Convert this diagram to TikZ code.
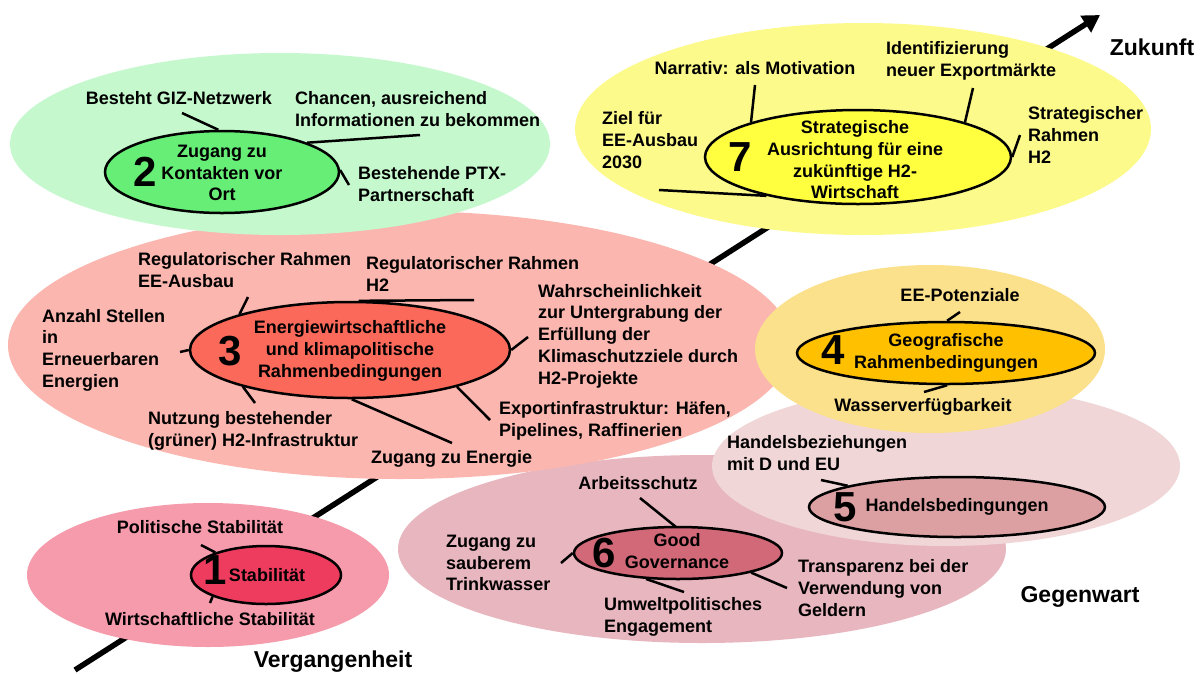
\documentclass[tikz,border=0pt]{standalone}
\usepackage{fontspec}
\setmainfont{Liberation Sans}
\usetikzlibrary{shapes.geometric,arrows.meta}
\definecolor{stabouter}{RGB}{245,155,172}
\definecolor{stabinner}{RGB}{238,60,95}
\definecolor{kontouter}{RGB}{198,248,206}
\definecolor{kontinner}{RGB}{102,238,119}
\definecolor{energouter}{RGB}{250,182,175}
\definecolor{energinner}{RGB}{250,105,90}
\definecolor{geoouter}{RGB}{252,225,140}
\definecolor{geoinner}{RGB}{255,192,0}
\definecolor{handouter}{RGB}{240,214,215}
\definecolor{handinner}{RGB}{220,160,162}
\definecolor{govouter}{RGB}{232,182,190}
\definecolor{govinner}{RGB}{210,105,120}
\definecolor{stratouter}{RGB}{253,250,140}
\definecolor{stratinner}{RGB}{255,255,64}

\begin{document}
\begin{tikzpicture}[
    x=1pt, y=-1pt,
    outer/.style={ellipse, inner sep=0pt},
    inner/.style={ellipse, draw=black, line width=2.5pt, inner sep=0pt},
    num/.style={font=\fontsize{42}{42}\selectfont\bfseries, inner sep=0pt},
    ctr/.style={font=\fontsize{18}{21.7}\selectfont\bfseries, align=center, inner sep=0pt},
    lbl/.style={font=\fontsize{18}{21.7}\selectfont\bfseries, align=left, inner sep=0pt},
    era/.style={font=\fontsize{23}{23}\selectfont\bfseries, inner sep=0pt},
    conn/.style={line width=2.5pt},
    timeline/.style={line width=5.5pt, -{Triangle[length=17pt,width=19pt]}}
]
\path[use as bounding box, fill=white] (0,0) rectangle (1202,673);

% Time axis
\coordinate (past) at (75,670);
\coordinate (future) at (1100,15);
\draw[timeline] (past) -- (future);

% 6 Good Governance
\node[outer, fill=govouter, minimum width=608, minimum height=188] (e6) at (702,549) {};
\coordinate (g6a) at (640,498);
\coordinate (g6b) at (561,563);
\coordinate (g6c) at (787,588);
\coordinate (g6d) at (684,592);
\draw[conn] (g6a) -- (676,527);
\node[inner, fill=govinner, minimum width=208, minimum height=52] (i6) at (678,553) {};
\draw[conn] (i6.180) -- (g6b);
\draw[conn] (i6.345) -- (g6c);
\draw[conn] (i6.219) -- (g6d);
\node[num] (n6) at (604,553) {6};
\node[ctr] (t6) at (677,551) {Good\\Governance};
\node[lbl] (l6a) at (638,483) {Arbeitsschutz};
\node[lbl, anchor=west] (l6b) at (446,563) {Zugang zu\\sauberem\\Trinkwasser};
\node[lbl, anchor=west] (l6c) at (798,588) {Transparenz bei der\\Verwendung von\\Geldern};
\node[lbl, anchor=west] (l6d) at (604,617) {Umweltpolitisches\\Engagement};

% 5 Handelsbedingungen
\node[outer, fill=handouter, minimum width=468, minimum height=160] (e5) at (946,466) {};
\coordinate (g5a) at (821,480);
\node[inner, fill=handinner, minimum width=296, minimum height=60] (i5) at (957,507) {};
\draw[conn] (i5.169) -- (g5a);
\node[num] (n5) at (845,507) {5};
\node[ctr] (t5) at (957,507) {Handelsbedingungen};
\node[lbl, anchor=west] (l5a) at (727,453) {Handelsbeziehungen\\mit D und EU};

% 3 Energiewirtschaftliche Rahmenbedingungen
\node[outer, fill=energouter, minimum width=784, minimum height=268] (e3) at (400,345) {};
\coordinate (g3a) at (248,297);
\coordinate (g3b) at (474,300);
\coordinate (g3c) at (528,337);
\coordinate (g3d) at (180,352);
\coordinate (g3e) at (255,403);
\coordinate (g3f) at (490,420);
\coordinate (g3g) at (452,443);
\node[inner, fill=energinner, minimum width=320, minimum height=96] (i3) at (350,350) {};
\draw[conn] (i3.162) -- (g3a);
\draw[conn] (i3.80) -- (g3b);
\draw[conn] (i3.0) -- (g3c);
\draw[conn] (i3.180) -- (g3d);
\draw[conn] (i3.199) -- (g3e);
\draw[conn] (i3.341) -- (g3f);
\draw[conn] (i3.272) -- (g3g);
\node[num] (n3) at (230,351) {3};
\node[ctr] (t3) at (350,351) {Energiewirtschaftliche\\und klimapolitische\\Rahmenbedingungen};
\node[lbl, anchor=west] (l3a) at (138,270) {Regulatorischer Rahmen\\EE-Ausbau};
\node[lbl, anchor=west] (l3b) at (366,274) {Regulatorischer Rahmen\\H2};
\node[lbl, anchor=west] (l3c) at (538,336) {Wahrscheinlichkeit\\zur Untergrabung der\\Erfüllung der\\Klimaschutzziele durch\\H2-Projekte};
\node[lbl, anchor=west] (l3d) at (42,350) {Anzahl Stellen\\in\\Erneuerbaren\\Energien};
\node[lbl, anchor=west] (l3e) at (148,431) {Nutzung bestehender\\(grüner) H2-Infrastruktur};
\node[lbl, anchor=west] (l3f) at (499,421) {Exportinfrastruktur: Häfen,\\Pipelines, Raffinerien};
\node[lbl, anchor=west] (l3g) at (371,459) {Zugang zu Energie};

% 4 Geografische Rahmenbedingungen
\node[outer, fill=geoouter, minimum width=350, minimum height=168] (e4) at (930,349) {};
\coordinate (g4a) at (960,312);
\coordinate (g4b) at (924,392);
\node[inner, fill=geoinner, minimum width=298, minimum height=62] (i4) at (946,353) {};
\draw[conn] (i4.88) -- (g4a);
\draw[conn] (i4.272) -- (g4b);
\node[num] (n4) at (833,350) {4};
\node[ctr] (t4) at (946,353) {Geografische\\Rahmenbedingungen};
\node[lbl] (l4a) at (960,295) {EE-Potenziale};
\node[lbl] (l4b) at (923,407) {Wasserverfügbarkeit};

% 2 Zugang zu Kontakten vor Ort
\node[outer, fill=kontouter, minimum width=540, minimum height=182] (e2) at (280,144) {};
\coordinate (g2a) at (182,113);
\coordinate (g2b) at (420,135);
\coordinate (g2c) at (349,185);
\node[inner, fill=kontinner, minimum width=234, minimum height=82] (i2) at (222,172) {};
\draw[conn] (i2.95) -- (g2a);
\draw[conn] (i2.19) -- (g2b);
\draw[conn] (i2.1) -- (g2c);
\node[num] (n2) at (145,172) {2};
\node[ctr] (t2) at (222,173) {Zugang zu\\Kontakten vor\\Ort};
\node[lbl] (l2a) at (179,98) {Besteht GIZ-Netzwerk};
\node[lbl, anchor=west] (l2b) at (295,109) {Chancen, ausreichend\\Informationen zu bekommen};
\node[lbl, anchor=west] (l2c) at (358,184) {Bestehende PTX-\\Partnerschaft};

% 7 Strategische Ausrichtung
\node[outer, fill=stratouter, minimum width=576, minimum height=212] (e7) at (863,129) {};
\coordinate (g7a) at (755,85);
\coordinate (g7b) at (973,88);
\coordinate (g7c) at (1020,135);
\coordinate (g7d) at (659,190);
\node[inner, fill=stratinner, minimum width=306, minimum height=94] (i7) at (858,157) {};
\draw[conn] (i7.162) -- (g7a);
\draw[conn] (i7.18) -- (g7b);
\draw[conn] (i7.0) -- (g7c);
\draw[conn] (i7.203) -- (g7d);
\node[num] (n7) at (740,157) {7};
\node[ctr] (t7) at (855,160) {Strategische\\Ausrichtung für eine\\zukünftige H2-\\Wirtschaft};
\node[lbl] (l7a) at (755,68) {Narrativ: als Motivation};
\node[lbl, anchor=west] (l7b) at (886,61) {Identifizierung\\neuer Exportmärkte};
\node[lbl, anchor=west] (l7c) at (602,140) {Ziel für\\EE-Ausbau\\2030};
\node[lbl, anchor=west] (l7d) at (1028,135) {Strategischer\\Rahmen\\H2};

% 1 Stabilitaet
\node[outer, fill=stabouter, minimum width=362, minimum height=144] (e1) at (208,575) {};
\coordinate (g1a) at (201,545);
\coordinate (g1b) at (210,603);
\node[inner, fill=stabinner, minimum width=150, minimum height=58] (i1) at (266,575) {};
\draw[conn] (i1.156) -- (g1a);
\draw[conn] (i1.202) -- (g1b);
\node[num] (n1) at (215,570) {1};
\node[ctr] (t1) at (267,575) {Stabilität};
\node[lbl] (l1a) at (200,527) {Politische Stabilität};
\node[lbl] (l1b) at (210,619) {Wirtschaftliche Stabilität};

% Zeitachse
\node[era] (zuk) at (1152,47) {Zukunft};
\node[era] (geg) at (1080,597) {Gegenwart};
\node[era] (ver) at (333,662) {Vergangenheit};

\end{tikzpicture}
\end{document}
